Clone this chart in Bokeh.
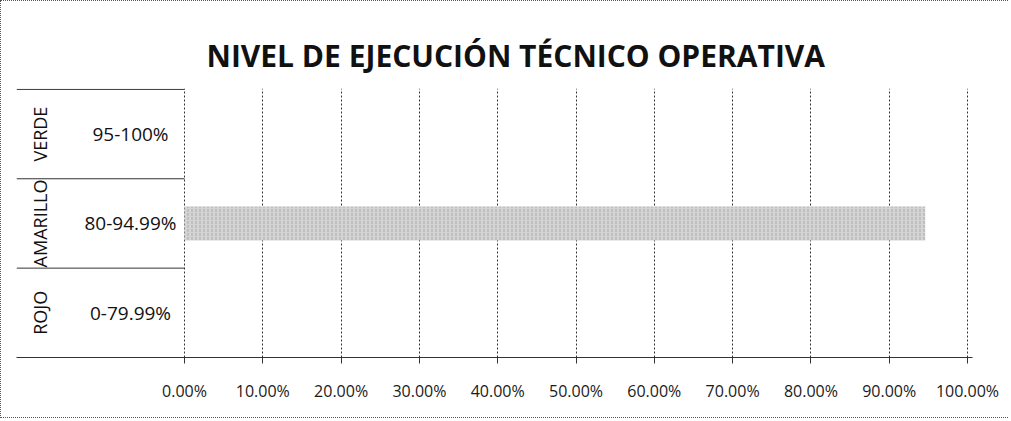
import numpy as np
from bokeh.plotting import figure
from bokeh.models import Range1d, ColumnDataSource, NumeralTickFormatter
from bokeh.core.properties import value
from bokeh.embed import file_html
from bokeh.resources import INLINE

# ---- data ----
chart_title = "NIVEL DE EJECUCIÓN TÉCNICO OPERATIVA"
levels = ["ROJO", "AMARILLO", "VERDE"]
level_ranges = ["0-79.99%", "80-94.99%", "95-100%"]
bar_levels = ["AMARILLO"]
bar_values = [0.946]
x_ticks = [0.0, 0.1, 0.2, 0.3, 0.4, 0.5, 0.6, 0.7, 0.8, 0.9, 1.0]

# ---- layout ----
W, H = 1008, 418
x_start, x_end = -0.2146, 1.0064
FONT = "Open Sans"

p = figure(width=W, height=H, x_range=Range1d(x_start, x_end), y_range=Range1d(0, 3.01),
           output_backend="svg", toolbar_location=None,
           min_border_left=15, min_border_right=37, min_border_top=87, min_border_bottom=62)
p.styles = {"border-left": "1px dotted #555", "border-top": "1px dotted #555",
            "border-bottom": "1px dotted #555"}
p.outline_line_color = None
p.background_fill_color = "white"
p.border_fill_color = "white"

p.title.text = chart_title
p.title.align = "left"
p.title.offset = 190
p.title.standoff = 26
p.title.text_font = FONT
p.title.text_font_style = "bold"
p.title.text_font_size = "30px"
p.title.text_color = "#111111"

# table row lines in label area
row_edges = [i + 1 for i in range(len(levels))]
p.segment(x0=x_start, x1=0, y0=row_edges, y1=row_edges, line_color="#333333", line_width=1)

# bar
bar_y = [levels.index(c) + 0.5 for c in bar_levels]
bar_src = ColumnDataSource(dict(y=bar_y, right=bar_values))
p.hbar(y="y", left=0, right="right", height=0.38, source=bar_src,
       fill_color="#d4d4d4", line_color=None,
       hatch_pattern=":", hatch_color="#8a8a8a", hatch_alpha=0.55, hatch_scale=4, hatch_weight=1)

# labels
lbl_src = ColumnDataSource(dict(y=[i + 0.5 for i in range(len(levels))], level=levels, rng=level_ranges))
p.text(x=-0.185, y="y", text="level", source=lbl_src, angle=np.pi / 2,
       text_align="center", text_baseline="middle", text_font=value(FONT),
       text_font_size="18px", text_color="#111111")
p.text(x=-0.069, y="y", text="rng", source=lbl_src,
       text_align="center", text_baseline="middle", text_font=value(FONT),
       text_font_size="19px", text_color="#111111")

# axes & grid
p.yaxis.visible = False
p.ygrid.visible = False
p.xaxis.ticker = x_ticks
p.xaxis.formatter = NumeralTickFormatter(format="0.00%")
p.xaxis.axis_line_color = "#333333"
p.xaxis.major_tick_line_color = "#333333"
p.xaxis.major_tick_out = 6
p.xaxis.major_tick_in = 0
p.xaxis.minor_tick_line_color = None
p.xaxis.major_label_standoff = 16
p.xaxis.major_label_text_font = FONT
p.xaxis.major_label_text_font_size = "16px"
p.xaxis.major_label_text_color = "#1a1a1a"
p.xgrid.grid_line_color = "#333333"
p.xgrid.grid_line_dash = "2 2"
p.xgrid.grid_line_width = 1

open("out.html", "w").write(file_html(p, INLINE))
